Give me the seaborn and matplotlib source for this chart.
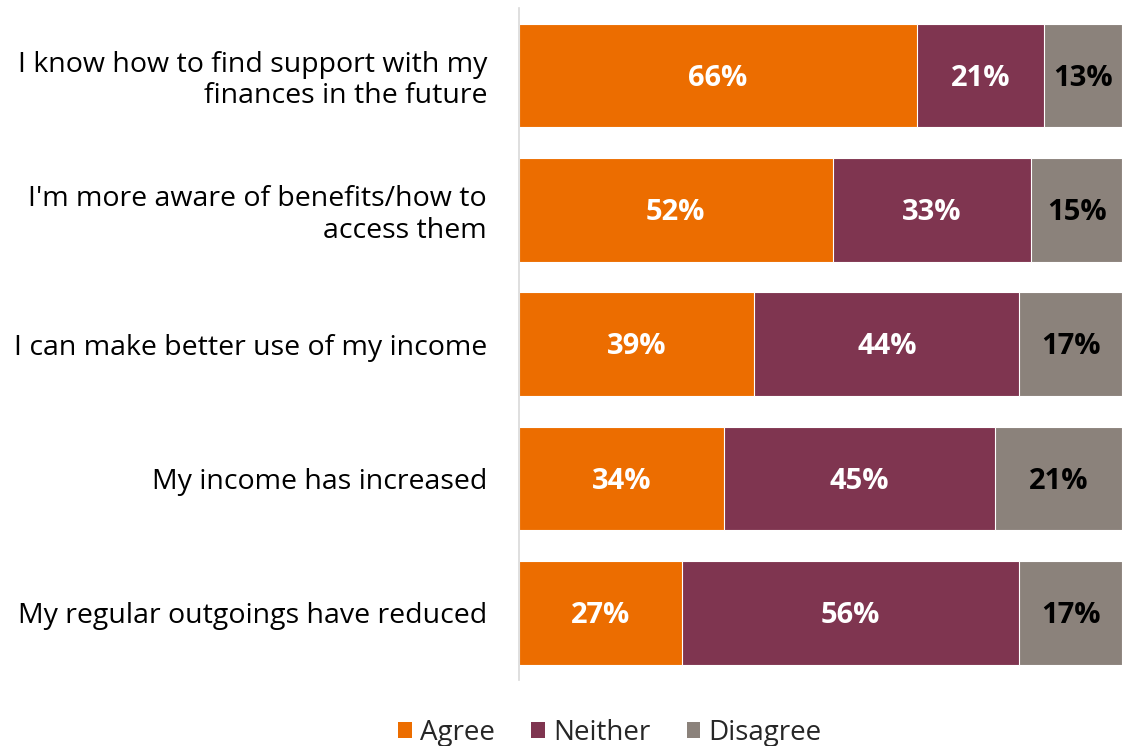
import matplotlib
matplotlib.use("Agg")
import matplotlib.pyplot as plt
import seaborn as sns
import pandas as pd
import numpy as np
from matplotlib.patches import Patch

statements = [
    "I know how to find support with my\nfinances in the future",
    "I'm more aware of benefits/how to\naccess them",
    "I can make better use of my income",
    "My income has increased",
    "My regular outgoings have reduced",
]
agree = [66, 52, 39, 34, 27]
neither = [21, 33, 44, 45, 56]
disagree = [13, 15, 17, 21, 17]

series_names = ["Agree", "Neither", "Disagree"]
colors = ["#EC6D00", "#7F3550", "#8B827B"]
label_colors = ["white", "white", "black"]

sns.set_theme(style="white")
plt.rcParams["font.family"] = ["Open Sans", "DejaVu Sans"]

df = pd.DataFrame({"statement": statements, "Agree": agree,
                   "Neither": neither, "Disagree": disagree})
df["cum_neither"] = df["Agree"] + df["Neither"]
df["cum_disagree"] = df["cum_neither"] + df["Disagree"]

fig = plt.figure(figsize=(11.23, 7.46), dpi=100)
ax = fig.add_axes([0.4622, 0.0885, 0.5368, 0.9002])

# stacked bars drawn back to front using cumulative totals
for col, color in zip(["cum_disagree", "cum_neither", "Agree"], colors[::-1]):
    sns.barplot(data=df, x=col, y="statement", color=color, width=0.77,
                orient="h", ax=ax, edgecolor="white", linewidth=0.8,
                saturation=1)

# segment value labels
for i in range(len(statements)):
    left = 0
    for name, tc in zip(series_names, label_colors):
        v = df.loc[i, name]
        ax.text(left + v / 2, i + 0.02, f"{v}%", ha="center", va="center",
                color=tc, fontsize=21, fontweight="bold")
        left += v

ax.set_xlim(0, 100)
ax.set_ylim(4.5, -0.5)
ax.set_xlabel("")
ax.set_ylabel("")
ax.set_xticks([])
ax.tick_params(axis="y", length=0, pad=23, labelsize=20.5)
for lbl in ax.get_yticklabels():
    lbl.set_horizontalalignment("right")
    lbl.set_multialignment("right")
    lbl.set_color("black")
    lbl.set_linespacing(1.15)
for s in ["top", "right", "bottom"]:
    ax.spines[s].set_visible(False)
ax.spines["left"].set_color("#D9D9D9")
ax.spines["left"].set_linewidth(1.2)

handles = [Patch(facecolor=c, edgecolor="none", label=n)
           for n, c in zip(series_names, colors)]
fig.legend(handles=handles, loc="center", bbox_to_anchor=(0.543, 0.018),
           ncol=3, frameon=False, fontsize=20, handlelength=0.5,
           handleheight=0.5, handletextpad=0.3, columnspacing=1.3)

fig.savefig("out.png", dpi=100)
